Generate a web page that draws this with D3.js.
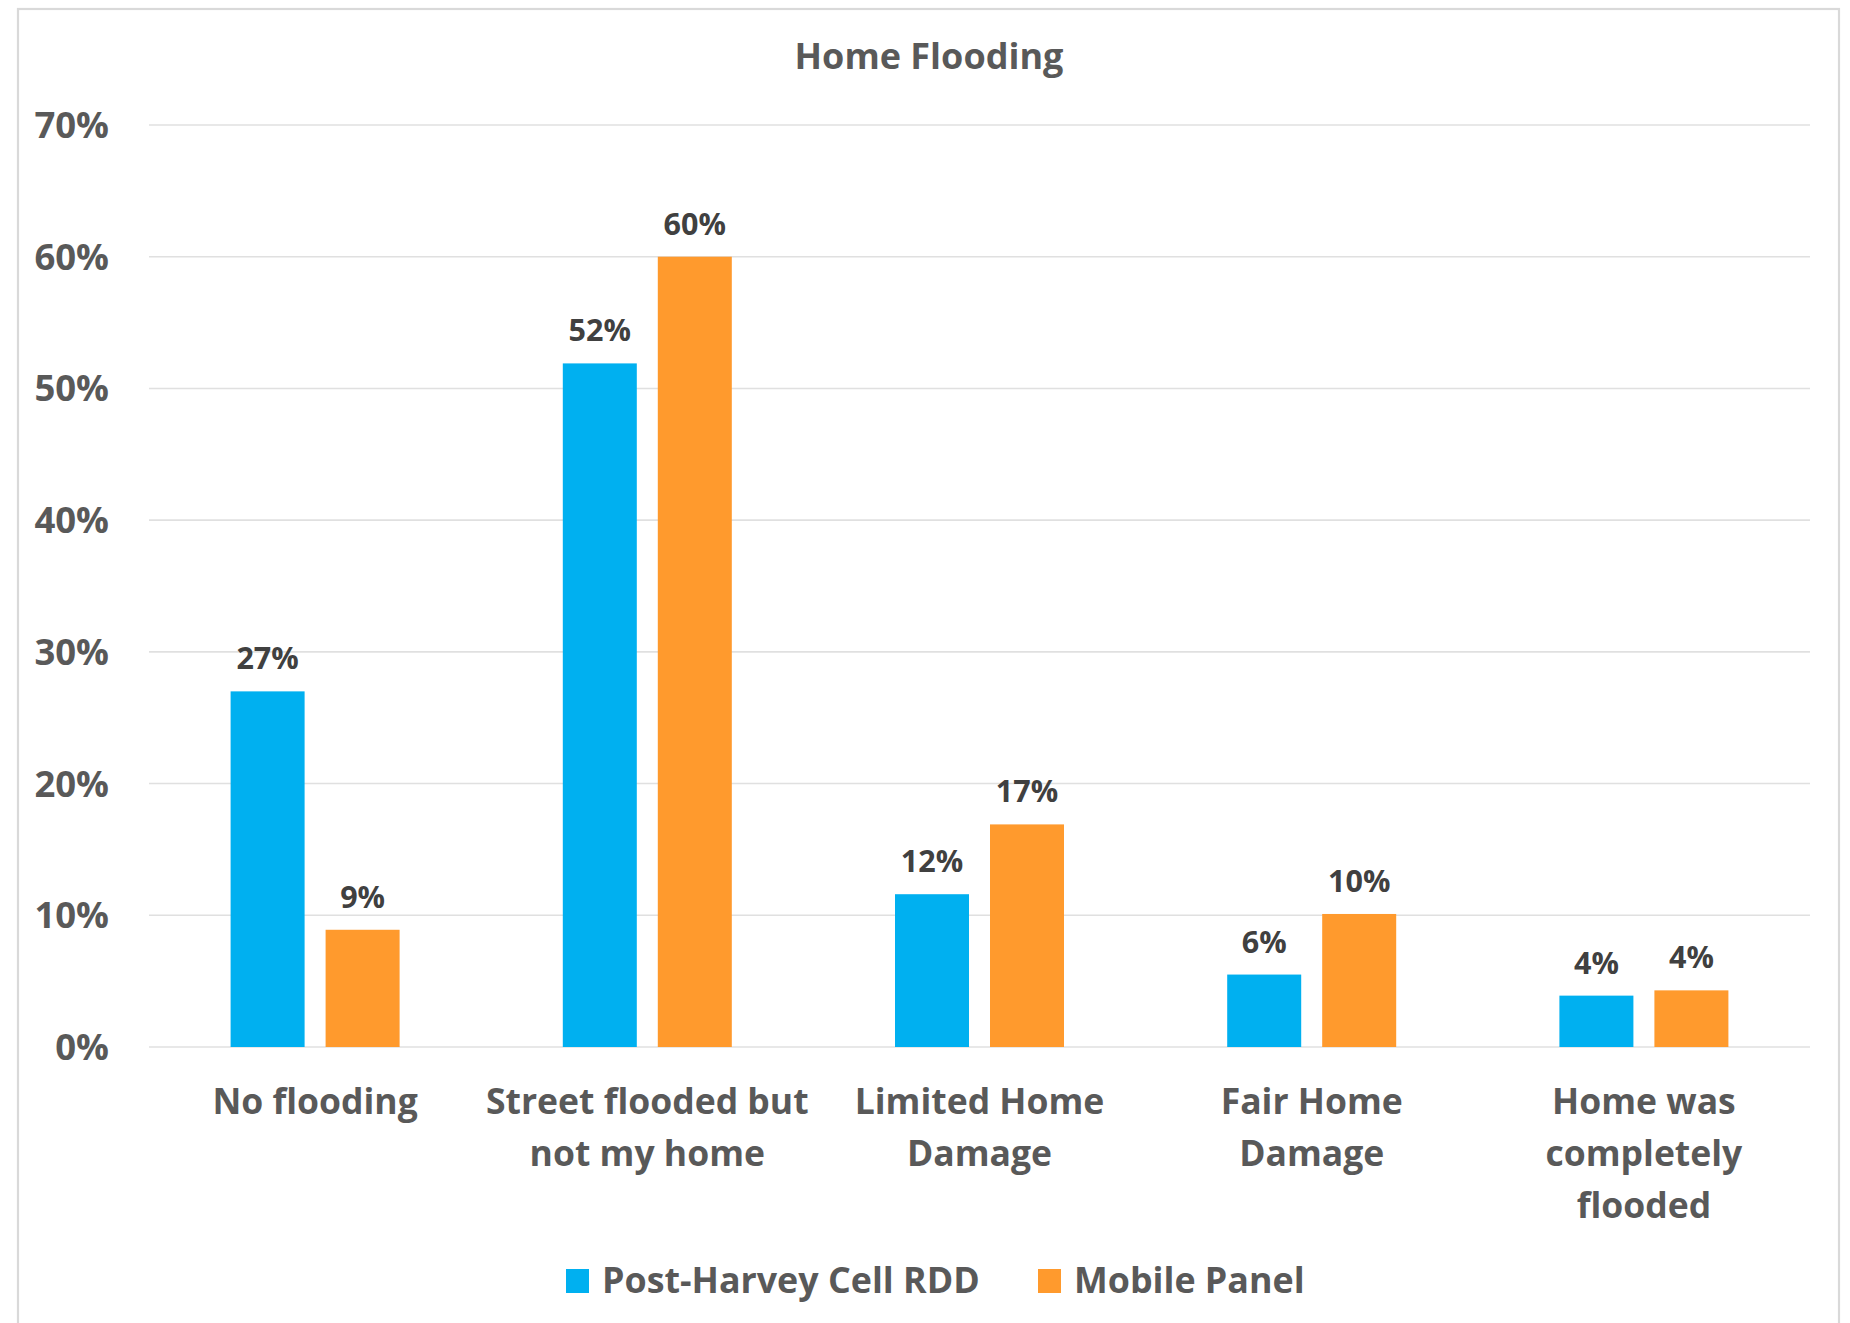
<!DOCTYPE html>
<html>
<head>
<meta charset="utf-8">
<script src="https://cdn.jsdelivr.net/npm/d3@7"></script>
<style>
  html, body { margin: 0; padding: 0; background: #ffffff; }
  svg { display: block; }
  text { font-family: "Open Sans", "DejaVu Sans", sans-serif; font-weight: 700; }
</style>
</head>
<body>
<svg id="chart" width="1850" height="1323"></svg>
<script>
// ---- data ----
const title = "Home Flooding";
const categories = ["No flooding", "Street flooded but not my home", "Limited Home Damage", "Fair Home Damage", "Home was completely flooded"];
const categoryLines = [["No flooding"], ["Street flooded but", "not my home"], ["Limited Home", "Damage"], ["Fair Home", "Damage"], ["Home was", "completely", "flooded"]];
const seriesNames = ["Post-Harvey Cell RDD", "Mobile Panel"];
const rddValues = [27.0, 51.9, 11.6, 5.5, 3.9];
const panelValues = [8.9, 60.0, 16.9, 10.1, 4.3];
const rddLabels = ["27%", "52%", "12%", "6%", "4%"];
const panelLabels = ["9%", "60%", "17%", "10%", "4%"];
const yTicks = [0, 10, 20, 30, 40, 50, 60, 70];
const yTickLabels = ["0%", "10%", "20%", "30%", "40%", "50%", "60%", "70%"];

const colors = ["#00B0F0", "#FF9A2D"];
const seriesValues = [rddValues, panelValues];
const seriesLabels = [rddLabels, panelLabels];

const svg = d3.select("#chart");

// frame
svg.append("rect")
  .attr("x", 18).attr("y", 9).attr("width", 1821).attr("height", 1340)
  .attr("fill", "#ffffff").attr("stroke", "#d9d9d9").attr("stroke-width", 2.2);

// scales
const x = d3.scaleBand().domain(categories).range([149, 1810]).paddingInner(0).paddingOuter(0);
const groupW = 169;
const x1 = d3.scaleBand().domain(seriesNames)
  .range([(x.bandwidth() - groupW) / 2, (x.bandwidth() + groupW) / 2])
  .paddingInner(0.221).paddingOuter(0);
const y = d3.scaleLinear().domain([0, 70]).range([1047, 125]);

// gridlines
svg.append("g").selectAll("line").data(yTicks).join("line")
  .attr("x1", 149).attr("x2", 1810)
  .attr("y1", d => y(d)).attr("y2", d => y(d))
  .attr("stroke", "#e0e0e0").attr("stroke-width", 1.6);

// y tick labels
svg.append("g").selectAll("text").data(yTicks).join("text")
  .attr("x", 109).attr("y", d => y(d) + 13)
  .attr("text-anchor", "end")
  .attr("font-size", 36.5)
  .attr("fill", "#595959")
  .text((d, i) => yTickLabels[i]);

// bars
seriesNames.forEach((s, si) => {
  const g = svg.append("g");
  g.selectAll("rect").data(categories).join("rect")
    .attr("x", c => x(c) + x1(s))
    .attr("width", x1.bandwidth())
    .attr("y", (c, i) => y(seriesValues[si][i]))
    .attr("height", (c, i) => y(0) - y(seriesValues[si][i]))
    .attr("fill", colors[si]);
  g.selectAll("text").data(categories).join("text")
    .attr("x", c => x(c) + x1(s) + x1.bandwidth() / 2)
    .attr("y", (c, i) => y(seriesValues[si][i]) - 22)
    .attr("text-anchor", "middle")
    .attr("font-size", 30.5)
    .attr("fill", "#404040")
    .text((c, i) => seriesLabels[si][i]);
});

// category labels
const catG = svg.append("g");
categories.forEach((c, i) => {
  const t = catG.append("text")
    .attr("x", x(c) + x.bandwidth() / 2)
    .attr("y", 1114)
    .attr("text-anchor", "middle")
    .attr("font-size", 35.5)
    .attr("fill", "#595959");
  categoryLines[i].forEach((line, li) => {
    t.append("tspan").attr("x", x(c) + x.bandwidth() / 2).attr("y", 1114 + li * 52).text(line);
  });
});

// title
svg.append("text")
  .attr("x", 929).attr("y", 69)
  .attr("text-anchor", "middle")
  .attr("font-size", 36)
  .attr("fill", "#595959")
  .text(title);

// legend
const legendX = [566, 1038];
const legend = svg.append("g");
seriesNames.forEach((s, si) => {
  legend.append("rect")
    .attr("x", legendX[si]).attr("y", 1269).attr("width", 23).attr("height", 24)
    .attr("fill", colors[si]);
  legend.append("text")
    .attr("x", legendX[si] + 36).attr("y", 1293)
    .attr("font-size", 35.8)
    .attr("fill", "#595959")
    .text(s);
});
</script>
</body>
</html>
